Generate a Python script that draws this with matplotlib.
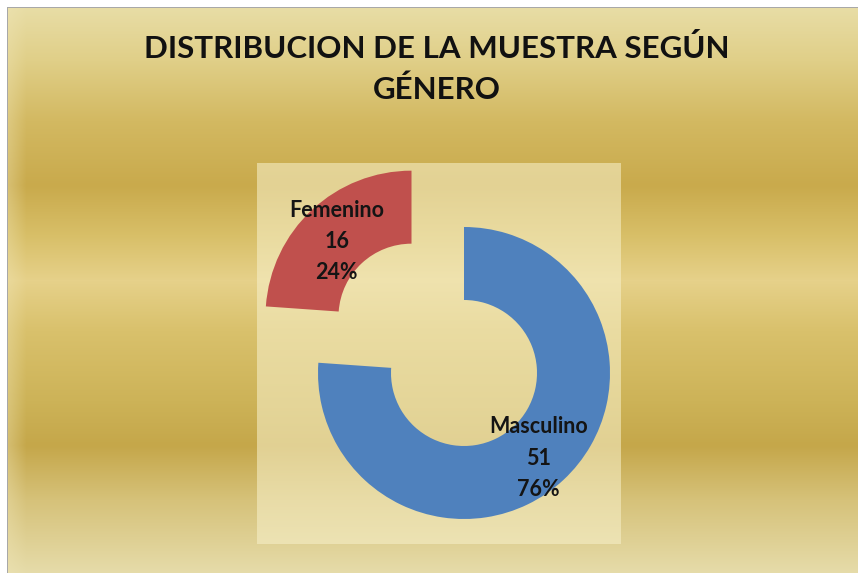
import numpy as np
import matplotlib
matplotlib.use("Agg")
import matplotlib.pyplot as plt
from matplotlib.colors import to_rgb

# ---- data ----
categories = ["Masculino", "Femenino"]
counts = [51, 16]
percents = ["76%", "24%"]
colors = ["#4f81bd", "#c0504d"]
title = "DISTRIBUCION DE LA MUESTRA SEGÚN\nGÉNERO"

W, H = 858, 573
fig = plt.figure(figsize=(W / 100, H / 100), dpi=100)
ax = fig.add_axes([0, 0, 1, 1])
ax.set_xlim(0, W)
ax.set_ylim(0, H)
ax.axis("off")

# ---- background gradient (gold bands), rows in pixel coords from top ----
stops = [(0, "#e9dfaa"), (60, "#e0cf88"), (120, "#d3b962"), (185, "#c9aa4c"),
         (235, "#d8bf68"), (280, "#e6d18a"), (330, "#d9c16c"), (400, "#cdb358"),
         (445, "#c5a74a"), (500, "#d6c27a"), (573, "#e6dcaa")]
ys = np.array([s[0] for s in stops], float)
cs = np.array([to_rgb(s[1]) for s in stops])
rows = np.arange(H)
col = np.stack([np.interp(rows, ys, cs[:, k]) for k in range(3)], axis=1)
img = np.repeat(col[:, None, :], W, axis=1)
# light left strip
xs = np.arange(W)
edge = np.clip(1 - (xs - 8) / 18.0, 0, 1) * 0.35
img = img * (1 - edge[None, :, None]) + np.array(to_rgb("#f0e6b8")) * edge[None, :, None]
# plot area lighter
px0, px1, py0, py1 = 257, 621, 163, 544
light = np.array(to_rgb("#f6efc8"))
img[py0:py1, px0:px1] = img[py0:py1, px0:px1] * 0.42 + light * 0.58
# frame: white top/left with grey line
img[:7, :] = 1.0
img[:, :7] = 1.0
img[7, 7:] = to_rgb("#a8a8a8")
img[7:, 7] = to_rgb("#a8a8a8")
ax.imshow(img, extent=(0, W, 0, H), origin="upper", aspect="auto", zorder=0)

# ---- donut ----
labels = [f"{c}\n{n}\n{p}" for c, n, p in zip(categories, counts, percents)]
wedges, texts = ax.pie(counts, colors=colors, startangle=90, counterclock=False,
       center=(464, H - 373), radius=146, explode=[0, 77],
       labels=labels, labeldistance=0.75,
       wedgeprops=dict(width=73, linewidth=0),
       textprops=dict(ha="center", va="center", fontsize=15.5, fontweight="bold",
                      family="Lato", color="#141414", linespacing=1.6),
       frame=True)
for t in texts:
    x, y = t.get_position()
    t.set_position((x, y - 5))
ax.set_xlim(0, W)
ax.set_ylim(0, H)
ax.set_aspect("auto")
ax.axis("off")

ax.text(437, H - 69, title, ha="center", va="center", fontsize=22.5,
        fontweight="bold", family="Lato", color="#111111", linespacing=1.52)

fig.savefig("out.png", dpi=100)
